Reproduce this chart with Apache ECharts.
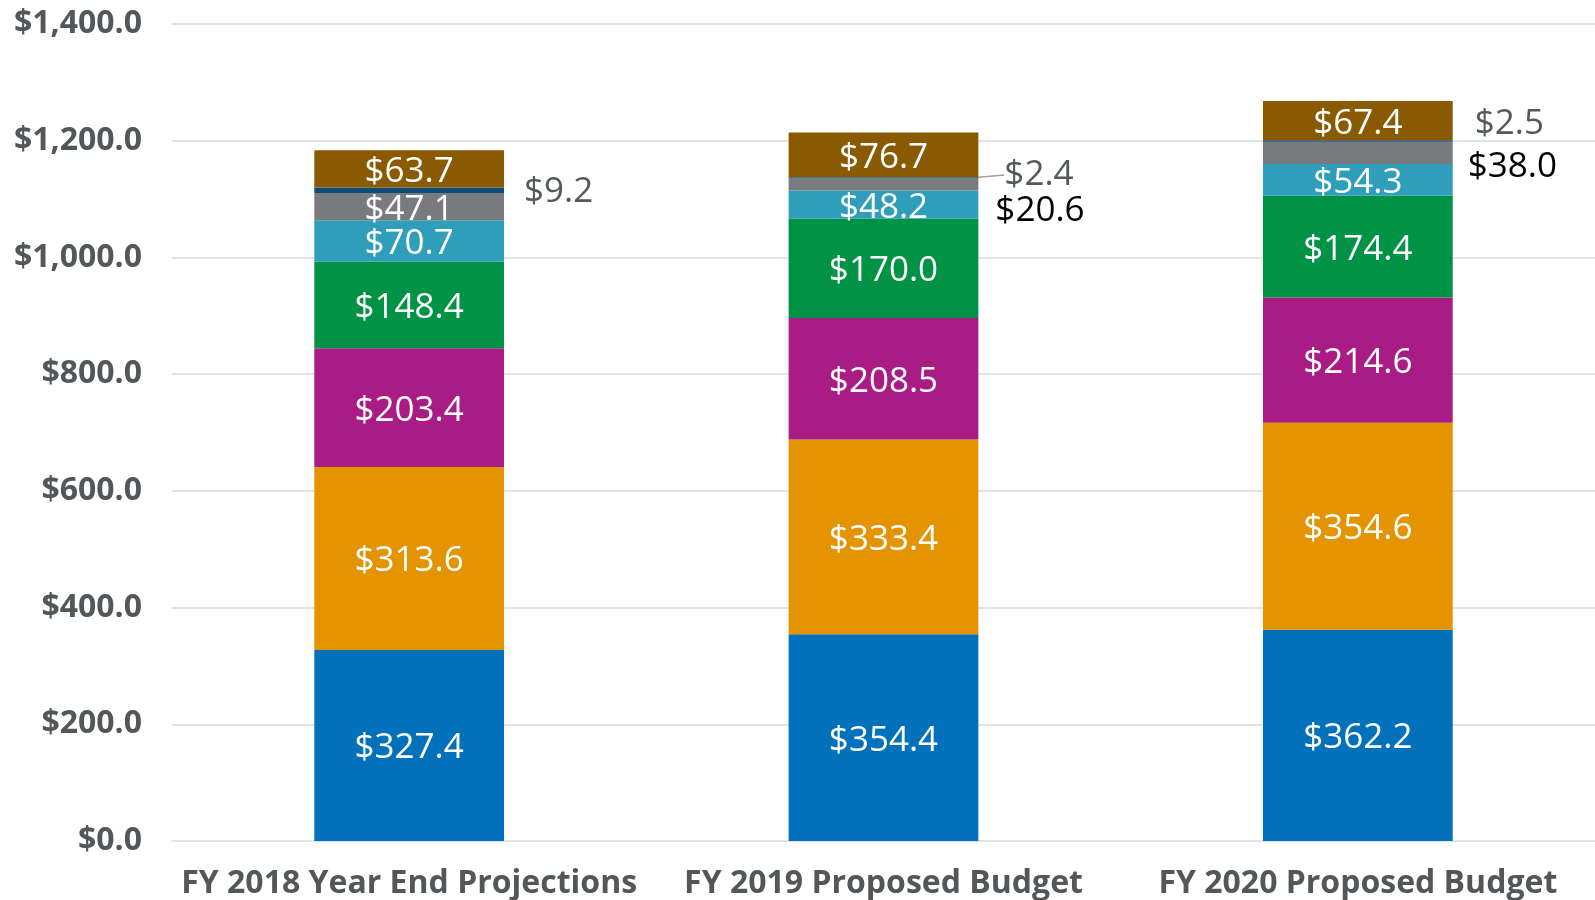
<!DOCTYPE html>
<html>
<head>
<meta charset="utf-8">
<script src="https://cdn.jsdelivr.net/npm/echarts@6/dist/echarts.min.js"></script>
<style>
html,body{margin:0;padding:0;background:#fff;}
#chart{width:1595px;height:900px;}
</style>
</head>
<body>
<div id="chart"></div>
<script>
const categories = ['FY 2018 Year End Projections', 'FY 2019 Proposed Budget', 'FY 2020 Proposed Budget'];
const seriesBlue = [327.4, 354.4, 362.2];
const seriesOrange = [313.6, 333.4, 354.6];
const seriesMagenta = [203.4, 208.5, 214.6];
const seriesGreen = [148.4, 170.0, 174.4];
const seriesTeal = [70.7, 48.2, 54.3];
const seriesGray = [47.1, 20.6, 38.0];
const seriesNavy = [9.2, 2.4, 2.5];
const seriesBrown = [63.7, 76.7, 67.4];
const yTicks = [0, 200, 400, 600, 800, 1000, 1200, 1400];

const FONT = '"Open Sans", "Noto Sans", sans-serif';
const fmt = v => '$' + Number(v).toFixed(1);
const fmtAxis = v => '$' + Number(v).toLocaleString('en-US', {minimumFractionDigits: 1, maximumFractionDigits: 1});

function inside() {
  return {show: true, position: 'inside', color: '#fff', fontSize: 35, fontFamily: FONT, offset: [0, 3], formatter: p => fmt(p.value)};
}

const chart = echarts.init(document.getElementById('chart'));

function mk(name, data, color, label, extra) {
  return Object.assign({
    name: name, type: 'bar', stack: 'total', barWidth: '40%',
    itemStyle: {color: color},
    label: label,
    data: data
  }, extra || {});
}

const grayShift = [[0, 3], [0, 26], [-2, 14]];
const grayData = seriesGray.map((v, i) => {
  if (i === 0) return v;
  return {value: v, label: {position: 'right', distance: 17, color: '#000', offset: [0, 0]}};
});
const navyShift = [[0, 2], [6, -3], [2, -17]];
const navyData = seriesNavy.map((v, i) => {
  const d = {value: v};
  if (i === 1) d.labelLine = {show: true, lineStyle: {color: '#a0a0a0', width: 1.5}};
  return d;
});

const option = {
  backgroundColor: '#fff',
  animation: false,
  grid: {left: 172, right: 0, top: 24, bottom: 59, containLabel: false},
  xAxis: {
    type: 'category', data: categories,
    axisLine: {show: true, lineStyle: {color: '#e3e3e3', width: 2}},
    axisTick: {show: false},
    axisLabel: {color: '#53575a', fontSize: 32, fontWeight: 'bold', fontFamily: FONT, margin: 27, interval: 0}
  },
  yAxis: {
    type: 'value', min: yTicks[0], max: yTicks[yTicks.length - 1], interval: 200,
    axisLine: {show: false}, axisTick: {show: false},
    splitLine: {lineStyle: {color: '#e3e3e3', width: 2}},
    axisLabel: {color: '#53575a', fontSize: 32, fontWeight: 'bold', fontFamily: FONT, margin: 30, formatter: fmtAxis}
  },
  series: [
    mk('Series 1', seriesBlue, '#0071BA', inside()),
    mk('Series 2', seriesOrange, '#E39400', inside()),
    mk('Series 3', seriesMagenta, '#A91C86', inside()),
    mk('Series 4', seriesGreen, '#009245', inside()),
    mk('Series 5', seriesTeal, '#2E9EBA', inside()),
    mk('Series 6', grayData, '#7A7B7F', inside(),
      {labelLayout: function (p) { const s = grayShift[p.dataIndex]; return {dx: s[0], dy: s[1]}; }}),
    mk('Series 7', navyData, '#0D4B7A',
      {show: true, position: 'right', distance: 20, color: '#54595c', fontSize: 35, fontFamily: FONT, formatter: p => fmt(p.value)},
      {labelLayout: function (p) { const s = navyShift[p.dataIndex]; return {dx: s[0], dy: s[1]}; },
       labelLine: {show: false}}),
    mk('Series 8', seriesBrown, '#8A5A00', inside())
  ]
};
chart.setOption(option);
</script>
</body>
</html>
